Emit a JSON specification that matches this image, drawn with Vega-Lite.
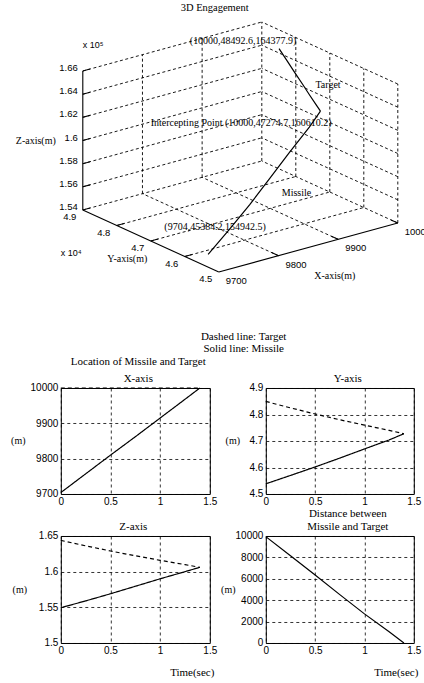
{
  "$schema": "https://vega.github.io/schema/vega-lite/v6.json",
  "background": "white",
  "padding": {"left": 9.8, "top": 2, "right": 0, "bottom": 0},
  "bounds": "flush",
  "spacing": 42,
  "title": {"text": "3D Engagement", "frame": "bounds", "anchor": "middle", "dx": -6, "offset": 4, "fontSize": 10.5},
  "config": {
    "view": {"stroke": "black", "strokeWidth": 1},
    "axis": {"domain": false, "ticks": false, "grid": true, "gridColor": "black", "gridDash": [3, 3], "gridWidth": 0.8, "gridOpacity": 1, "labelFont": "Liberation Sans", "labelFontSize": 10, "labelColor": "black", "labelFlush": false, "labelOverlap": false, "labelPadding": 3, "titleFont": "Liberation Serif", "titleFontSize": 10, "titleFontWeight": "normal", "titleColor": "black"},
    "title": {"font": "Liberation Serif", "fontSize": 11, "fontWeight": "normal", "color": "black", "offset": -1},
    "text": {"font": "Liberation Serif", "fontSize": 10, "color": "black"},
    "line": {"color": "black", "strokeWidth": 1.2},
    "rule": {"color": "black"}
  },
  "datasets": {
    "traj": [
      {"t": 0, "obj": "Missile", "X": 9704, "Y": 45384.2, "Z": 154942.5},
      {"t": 0.25, "obj": "Missile", "X": 9757, "Y": 45700, "Z": 155900},
      {"t": 0.5, "obj": "Missile", "X": 9810, "Y": 46020, "Z": 156900},
      {"t": 0.75, "obj": "Missile", "X": 9862, "Y": 46355, "Z": 157950},
      {"t": 1, "obj": "Missile", "X": 9915, "Y": 46700, "Z": 159000},
      {"t": 1.25, "obj": "Missile", "X": 9968, "Y": 47040, "Z": 160000},
      {"t": 1.4, "obj": "Missile", "X": 10000, "Y": 47274.7, "Z": 160610.2},
      {"t": 0, "obj": "Target", "X": 10000, "Y": 48492.6, "Z": 164377.9},
      {"t": 0.25, "obj": "Target", "X": 10000, "Y": 48250, "Z": 163620},
      {"t": 0.5, "obj": "Target", "X": 10000, "Y": 48020, "Z": 162900},
      {"t": 0.75, "obj": "Target", "X": 10000, "Y": 47800, "Z": 162230},
      {"t": 1, "obj": "Target", "X": 10000, "Y": 47600, "Z": 161590},
      {"t": 1.25, "obj": "Target", "X": 10000, "Y": 47400, "Z": 160990},
      {"t": 1.4, "obj": "Target", "X": 10000, "Y": 47274.7, "Z": 160610.2}
    ],
    "dist": [
      {"t": 0, "D": 9940}, {"t": 0.25, "D": 8150}, {"t": 0.5, "D": 6350}, {"t": 0.75, "D": 4520},
      {"t": 1, "D": 2720}, {"t": 1.25, "D": 1050}, {"t": 1.4, "D": 0}
    ],
    "scene": [
      {"kind": "grid", "X": 9700, "Y": 49000, "Z": 156000, "X2": 10000, "Y2": 49000, "Z2": 156000},
      {"kind": "grid", "X": 9700, "Y": 49000, "Z": 158000, "X2": 10000, "Y2": 49000, "Z2": 158000},
      {"kind": "grid", "X": 9700, "Y": 49000, "Z": 160000, "X2": 10000, "Y2": 49000, "Z2": 160000},
      {"kind": "grid", "X": 9700, "Y": 49000, "Z": 162000, "X2": 10000, "Y2": 49000, "Z2": 162000},
      {"kind": "grid", "X": 9700, "Y": 49000, "Z": 164000, "X2": 10000, "Y2": 49000, "Z2": 164000},
      {"kind": "grid", "X": 9700, "Y": 49000, "Z": 166000, "X2": 10000, "Y2": 49000, "Z2": 166000},
      {"kind": "grid", "X": 9800, "Y": 49000, "Z": 154000, "X2": 9800, "Y2": 49000, "Z2": 166000},
      {"kind": "grid", "X": 9900, "Y": 49000, "Z": 154000, "X2": 9900, "Y2": 49000, "Z2": 166000},
      {"kind": "grid", "X": 10000, "Y": 49000, "Z": 154000, "X2": 10000, "Y2": 49000, "Z2": 166000},
      {"kind": "grid", "X": 10000, "Y": 45000, "Z": 156000, "X2": 10000, "Y2": 49000, "Z2": 156000},
      {"kind": "grid", "X": 10000, "Y": 45000, "Z": 158000, "X2": 10000, "Y2": 49000, "Z2": 158000},
      {"kind": "grid", "X": 10000, "Y": 45000, "Z": 160000, "X2": 10000, "Y2": 49000, "Z2": 160000},
      {"kind": "grid", "X": 10000, "Y": 45000, "Z": 162000, "X2": 10000, "Y2": 49000, "Z2": 162000},
      {"kind": "grid", "X": 10000, "Y": 45000, "Z": 164000, "X2": 10000, "Y2": 49000, "Z2": 164000},
      {"kind": "grid", "X": 10000, "Y": 45000, "Z": 166000, "X2": 10000, "Y2": 49000, "Z2": 166000},
      {"kind": "grid", "X": 10000, "Y": 45000, "Z": 154000, "X2": 10000, "Y2": 45000, "Z2": 166000},
      {"kind": "grid", "X": 10000, "Y": 46000, "Z": 154000, "X2": 10000, "Y2": 46000, "Z2": 166000},
      {"kind": "grid", "X": 10000, "Y": 47000, "Z": 154000, "X2": 10000, "Y2": 47000, "Z2": 166000},
      {"kind": "grid", "X": 10000, "Y": 48000, "Z": 154000, "X2": 10000, "Y2": 48000, "Z2": 166000},
      {"kind": "grid", "X": 9800, "Y": 45000, "Z": 154000, "X2": 9800, "Y2": 49000, "Z2": 154000},
      {"kind": "grid", "X": 9900, "Y": 45000, "Z": 154000, "X2": 9900, "Y2": 49000, "Z2": 154000},
      {"kind": "grid", "X": 10000, "Y": 45000, "Z": 154000, "X2": 10000, "Y2": 49000, "Z2": 154000},
      {"kind": "grid", "X": 9700, "Y": 46000, "Z": 154000, "X2": 10000, "Y2": 46000, "Z2": 154000},
      {"kind": "grid", "X": 9700, "Y": 47000, "Z": 154000, "X2": 10000, "Y2": 47000, "Z2": 154000},
      {"kind": "grid", "X": 9700, "Y": 48000, "Z": 154000, "X2": 10000, "Y2": 48000, "Z2": 154000},
      {"kind": "grid", "X": 9700, "Y": 49000, "Z": 154000, "X2": 10000, "Y2": 49000, "Z2": 154000},
      {"kind": "axis", "X": 9700, "Y": 49000, "Z": 154000, "X2": 9700, "Y2": 49000, "Z2": 166000},
      {"kind": "axis", "X": 9700, "Y": 45000, "Z": 154000, "X2": 9700, "Y2": 49000, "Z2": 154000},
      {"kind": "axis", "X": 9700, "Y": 45000, "Z": 154000, "X2": 10000, "Y2": 45000, "Z2": 154000},
      {"kind": "axis", "X": 9700, "Y": 49000, "Z": 154000, "X2": 9712, "Y2": 49000, "Z2": 154000},
      {"kind": "axis", "X": 9700, "Y": 49000, "Z": 156000, "X2": 9712, "Y2": 49000, "Z2": 156000},
      {"kind": "axis", "X": 9700, "Y": 49000, "Z": 158000, "X2": 9712, "Y2": 49000, "Z2": 158000},
      {"kind": "axis", "X": 9700, "Y": 49000, "Z": 160000, "X2": 9712, "Y2": 49000, "Z2": 160000},
      {"kind": "axis", "X": 9700, "Y": 49000, "Z": 162000, "X2": 9712, "Y2": 49000, "Z2": 162000},
      {"kind": "axis", "X": 9700, "Y": 49000, "Z": 164000, "X2": 9712, "Y2": 49000, "Z2": 164000},
      {"kind": "axis", "X": 9700, "Y": 49000, "Z": 166000, "X2": 9712, "Y2": 49000, "Z2": 166000},
      {"kind": "axis", "X": 9700, "Y": 46000, "Z": 154000, "X2": 9712, "Y2": 46000, "Z2": 154000},
      {"kind": "axis", "X": 9700, "Y": 47000, "Z": 154000, "X2": 9712, "Y2": 47000, "Z2": 154000},
      {"kind": "axis", "X": 9700, "Y": 48000, "Z": 154000, "X2": 9712, "Y2": 48000, "Z2": 154000},
      {"kind": "axis", "X": 9800, "Y": 45000, "Z": 154000, "X2": 9800, "Y2": 45200, "Z2": 154000},
      {"kind": "axis", "X": 9900, "Y": 45000, "Z": 154000, "X2": 9900, "Y2": 45200, "Z2": 154000},
      {"kind": "axis", "X": 10000, "Y": 45000, "Z": 154000, "X2": 10000, "Y2": 45200, "Z2": 154000},
      {"kind": "zlab", "X": 9700, "Y": 49000, "Z": 154000, "label": "1.54"},
      {"kind": "zlab", "X": 9700, "Y": 49000, "Z": 156000, "label": "1.56"},
      {"kind": "zlab", "X": 9700, "Y": 49000, "Z": 158000, "label": "1.58"},
      {"kind": "zlab", "X": 9700, "Y": 49000, "Z": 160000, "label": "1.6"},
      {"kind": "zlab", "X": 9700, "Y": 49000, "Z": 162000, "label": "1.62"},
      {"kind": "zlab", "X": 9700, "Y": 49000, "Z": 164000, "label": "1.64"},
      {"kind": "zlab", "X": 9700, "Y": 49000, "Z": 166000, "label": "1.66"},
      {"kind": "ylab", "X": 9700, "Y": 45000, "Z": 154000, "label": "4.5"},
      {"kind": "ylab", "X": 9700, "Y": 46000, "Z": 154000, "label": "4.6"},
      {"kind": "ylab", "X": 9700, "Y": 47000, "Z": 154000, "label": "4.7"},
      {"kind": "ylab", "X": 9700, "Y": 48000, "Z": 154000, "label": "4.8"},
      {"kind": "ylab", "X": 9700, "Y": 49000, "Z": 154000, "label": "4.9"},
      {"kind": "xlab", "X": 9700, "Y": 45000, "Z": 154000, "label": "9700"},
      {"kind": "xlab", "X": 9800, "Y": 45000, "Z": 154000, "label": "9800"},
      {"kind": "xlab", "X": 9900, "Y": 45000, "Z": 154000, "label": "9900"},
      {"kind": "xlab", "X": 10000, "Y": 45000, "Z": 154000, "label": "10000"},
      {"kind": "ztitle", "X": 9700, "Y": 49000, "Z": 160000, "label": "Z-axis(m)"},
      {"kind": "zexp", "X": 9700, "Y": 49000, "Z": 166000, "label": "x 10⁵"},
      {"kind": "ytitle", "X": 9700, "Y": 47000, "Z": 154000, "label": "Y-axis(m)"},
      {"kind": "yexp", "X": 9700, "Y": 49000, "Z": 154000, "label": "x 10⁴"},
      {"kind": "xtitle", "X": 9850, "Y": 45000, "Z": 154000, "label": "X-axis(m)"},
      {"kind": "tstart", "X": 10000, "Y": 48492.6, "Z": 164377.9, "label": "(10000,48492.6,164377.9)"},
      {"kind": "tname", "X": 10000, "Y": 48492.6, "Z": 164377.9, "label": "Target"},
      {"kind": "ipoint", "X": 10000, "Y": 47274.7, "Z": 160610.2, "label": "Intercepting Point (10000,47274.7,160610.2)"},
      {"kind": "mname", "X": 10000, "Y": 47274.7, "Z": 160610.2, "label": "Missile"},
      {"kind": "mstart", "X": 9704, "Y": 45384.2, "Z": 154942.5, "label": "(9704,45384.2,154942.5)"}
    ]
  },
  "vconcat": [
    {
      "width": 364,
      "height": 329,
      "view": {"stroke": null},
      "data": {"name": "scene"},
      "transform": [
        {"calculate": "218 + 0.59667*(datum.X-9700) - 0.034*(datum.Y-45000)", "as": "u"},
        {"calculate": "271 - 0.16333*(datum.X-9700) - 0.0155*(datum.Y-45000) - 0.011583*(datum.Z-154000)", "as": "v"},
        {"calculate": "218 + 0.59667*(datum.X2-9700) - 0.034*(datum.Y2-45000)", "as": "u2"},
        {"calculate": "271 - 0.16333*(datum.X2-9700) - 0.0155*(datum.Y2-45000) - 0.011583*(datum.Z2-154000)", "as": "v2"}
      ],
      "encoding": {
        "x": {"field": "u", "type": "quantitative", "scale": {"domain": [60, 424], "nice": false, "zero": false}, "axis": null},
        "y": {"field": "v", "type": "quantitative", "scale": {"domain": [16, 345], "nice": false, "zero": false, "reverse": true}, "axis": null}
      },
      "layer": [
        {
          "transform": [{"filter": "datum.kind === 'grid'"}],
          "mark": {"type": "rule", "strokeDash": [3, 2.5], "strokeWidth": 0.9},
          "encoding": {"x2": {"field": "u2"}, "y2": {"field": "v2"}}
        },
        {
          "transform": [{"filter": "datum.kind === 'axis'"}],
          "mark": {"type": "rule", "strokeWidth": 1.1},
          "encoding": {"x2": {"field": "u2"}, "y2": {"field": "v2"}}
        },
        {
          "data": {"name": "traj"},
          "transform": [
            {"calculate": "218 + 0.59667*(datum.X-9700) - 0.034*(datum.Y-45000)", "as": "u"},
            {"calculate": "271 - 0.16333*(datum.X-9700) - 0.0155*(datum.Y-45000) - 0.011583*(datum.Z-154000)", "as": "v"}
          ],
          "mark": {"type": "line", "strokeWidth": 1.2, "color": "black"},
          "encoding": {"detail": {"field": "obj"}, "order": {"field": "t", "type": "quantitative"}}
        },
        {
          "transform": [{"filter": "datum.kind === 'zlab'"}],
          "mark": {"type": "text", "align": "right", "baseline": "middle", "dx": -5, "dy": -3, "font": "Liberation Sans", "fontSize": 9.5},
          "encoding": {"text": {"field": "label"}}
        },
        {
          "transform": [{"filter": "datum.kind === 'ylab'"}],
          "mark": {"type": "text", "align": "center", "baseline": "middle", "dx": -13, "dy": 7, "font": "Liberation Sans", "fontSize": 9.5},
          "encoding": {"text": {"field": "label"}}
        },
        {
          "transform": [{"filter": "datum.kind === 'xlab'"}],
          "mark": {"type": "text", "align": "left", "baseline": "middle", "dx": 7, "dy": 9, "font": "Liberation Sans", "fontSize": 9.5},
          "encoding": {"text": {"field": "label"}}
        },
        {
          "transform": [{"filter": "datum.kind === 'ztitle'"}],
          "mark": {"type": "text", "align": "right", "baseline": "middle", "dx": -27, "dy": 0},
          "encoding": {"text": {"field": "label"}}
        },
        {
          "transform": [{"filter": "datum.kind === 'zexp'"}],
          "mark": {"type": "text", "align": "left", "baseline": "middle", "dx": 0, "dy": -26, "font": "Liberation Sans", "fontSize": 9},
          "encoding": {"text": {"field": "label"}}
        },
        {
          "transform": [{"filter": "datum.kind === 'ytitle'"}],
          "mark": {"type": "text", "align": "center", "baseline": "middle", "dx": -23.5, "dy": 18},
          "encoding": {"text": {"field": "label"}}
        },
        {
          "transform": [{"filter": "datum.kind === 'yexp'"}],
          "mark": {"type": "text", "align": "left", "baseline": "middle", "dx": -22, "dy": 43, "font": "Liberation Sans", "fontSize": 9},
          "encoding": {"text": {"field": "label"}}
        },
        {
          "transform": [{"filter": "datum.kind === 'xtitle'"}],
          "mark": {"type": "text", "align": "center", "baseline": "middle", "dx": 26.5, "dy": 28.5},
          "encoding": {"text": {"field": "label"}}
        },
        {
          "transform": [{"filter": "datum.kind === 'tstart'"}],
          "mark": {"type": "text", "align": "center", "baseline": "middle", "dx": -36, "dy": -8},
          "encoding": {"text": {"field": "label"}}
        },
        {
          "transform": [{"filter": "datum.kind === 'tname'"}],
          "mark": {"type": "text", "align": "center", "baseline": "middle", "dx": 49, "dy": 36},
          "encoding": {"text": {"field": "label"}}
        },
        {
          "transform": [{"filter": "datum.kind === 'ipoint'"}],
          "mark": {"type": "text", "align": "right", "baseline": "middle", "dx": 11, "dy": 12},
          "encoding": {"text": {"field": "label"}}
        },
        {
          "transform": [{"filter": "datum.kind === 'mname'"}],
          "mark": {"type": "text", "align": "center", "baseline": "middle", "dx": -24, "dy": 82},
          "encoding": {"text": {"field": "label"}}
        },
        {
          "transform": [{"filter": "datum.kind === 'mstart'"}],
          "mark": {"type": "text", "align": "center", "baseline": "middle", "dx": 7, "dy": -27},
          "encoding": {"text": {"field": "label"}}
        }
      ]
    },
    {
      "title": {"text": ["Dashed line: Target", "Solid line: Missile"], "frame": "bounds", "anchor": "middle", "dx": 28, "offset": 1, "lineHeight": 13},
      "bounds": "flush",
      "columns": 2,
      "spacing": {"row": 42, "column": 56},
      "concat": [
        {
          "width": 149,
          "height": 106,
          "title": {"text": ["Location of Missile and Target", "X-axis"], "frame": "group", "anchor": "middle", "dx": 3, "lineHeight": 17},
          "data": {"name": "traj"},
          "mark": {"type": "line"},
          "encoding": {
            "x": {"field": "t", "type": "quantitative", "scale": {"domain": [0, 1.5], "nice": false}, "axis": {"values": [0, 0.5, 1, 1.5], "labelExpr": "'' + datum.value", "title": null}},
            "y": {"field": "X", "type": "quantitative", "scale": {"domain": [9700, 10000], "nice": false, "zero": false}, "axis": {"values": [9700, 9800, 9900, 10000], "labelExpr": "'' + datum.value", "title": "(m)", "titleAngle": 0, "titleX": -43, "titleY": 53, "titleAlign": "center", "titleBaseline": "middle"}},
            "strokeDash": {"field": "obj", "type": "nominal", "scale": {"domain": ["Missile", "Target"], "range": [[1, 0], [4, 3]]}, "legend": null}
          }
        },
        {
          "width": 148,
          "height": 106,
          "title": {"text": "Y-axis", "frame": "group", "anchor": "middle", "dx": 8},
          "data": {"name": "traj"},
          "encoding": {
            "x": {"field": "t", "type": "quantitative", "scale": {"domain": [0, 1.5], "nice": false}, "axis": {"values": [0, 0.5, 1, 1.5], "labelExpr": "'' + datum.value", "title": null}},
            "y": {"field": "Y", "type": "quantitative", "scale": {"domain": [45000, 49000], "nice": false, "zero": false}, "axis": {"values": [45000, 46000, 47000, 48000, 49000], "labelExpr": "'' + (datum.value / 10000)", "title": "(m)", "titleAngle": 0, "titleX": -33.5, "titleY": 53, "titleAlign": "center", "titleBaseline": "middle"}}
          },
          "layer": [
            {
              "mark": {"type": "line"},
              "encoding": {"strokeDash": {"field": "obj", "type": "nominal", "scale": {"domain": ["Missile", "Target"], "range": [[1, 0], [4, 3]]}, "legend": null}}
            },
            {
              "data": {"values": [{}]},
              "mark": {"type": "text", "align": "left", "baseline": "bottom", "dy": -3, "font": "Liberation Sans", "fontSize": 9},
              "encoding": {"x": {"datum": 0}, "y": {"datum": 49000}, "text": {"value": "x 10⁴"}}
            }
          ]
        },
        {
          "width": 149,
          "height": 107,
          "title": {"text": "Z-axis", "frame": "group", "anchor": "middle", "dx": -2},
          "data": {"name": "traj"},
          "encoding": {
            "x": {"field": "t", "type": "quantitative", "scale": {"domain": [0, 1.5], "nice": false}, "axis": {"values": [0, 0.5, 1, 1.5], "labelExpr": "'' + datum.value", "title": "Time(sec)", "titleX": 153, "titleY": 30, "titleAlign": "right", "titleBaseline": "middle", "titleFontSize": 11}},
            "y": {"field": "Z", "type": "quantitative", "scale": {"domain": [150000, 165000], "nice": false, "zero": false}, "axis": {"values": [150000, 155000, 160000, 165000], "labelExpr": "'' + (datum.value / 100000)", "title": "(m)", "titleAngle": 0, "titleX": -41.5, "titleY": 53.5, "titleAlign": "center", "titleBaseline": "middle"}}
          },
          "layer": [
            {
              "mark": {"type": "line"},
              "encoding": {"strokeDash": {"field": "obj", "type": "nominal", "scale": {"domain": ["Missile", "Target"], "range": [[1, 0], [4, 3]]}, "legend": null}}
            },
            {
              "data": {"values": [{}]},
              "mark": {"type": "text", "align": "left", "baseline": "bottom", "dy": -3, "font": "Liberation Sans", "fontSize": 9},
              "encoding": {"x": {"datum": 0}, "y": {"datum": 165000}, "text": {"value": "x 10⁵"}}
            }
          ]
        },
        {
          "width": 148,
          "height": 107,
          "title": {"text": ["Distance between", "Missile and Target"], "frame": "group", "anchor": "middle", "dx": 8, "lineHeight": 13},
          "data": {"name": "dist"},
          "mark": {"type": "line"},
          "encoding": {
            "x": {"field": "t", "type": "quantitative", "scale": {"domain": [0, 1.5], "nice": false}, "axis": {"values": [0, 0.5, 1, 1.5], "labelExpr": "'' + datum.value", "title": "Time(sec)", "titleX": 152, "titleY": 30, "titleAlign": "right", "titleBaseline": "middle", "titleFontSize": 11}},
            "y": {"field": "D", "type": "quantitative", "scale": {"domain": [0, 10000], "nice": false, "zero": false}, "axis": {"values": [0, 2000, 4000, 6000, 8000, 10000], "labelExpr": "'' + datum.value", "title": "(m)", "titleAngle": 0, "titleX": -38, "titleY": 53.5, "titleAlign": "center", "titleBaseline": "middle"}}
          }
        }
      ]
    }
  ]
}
